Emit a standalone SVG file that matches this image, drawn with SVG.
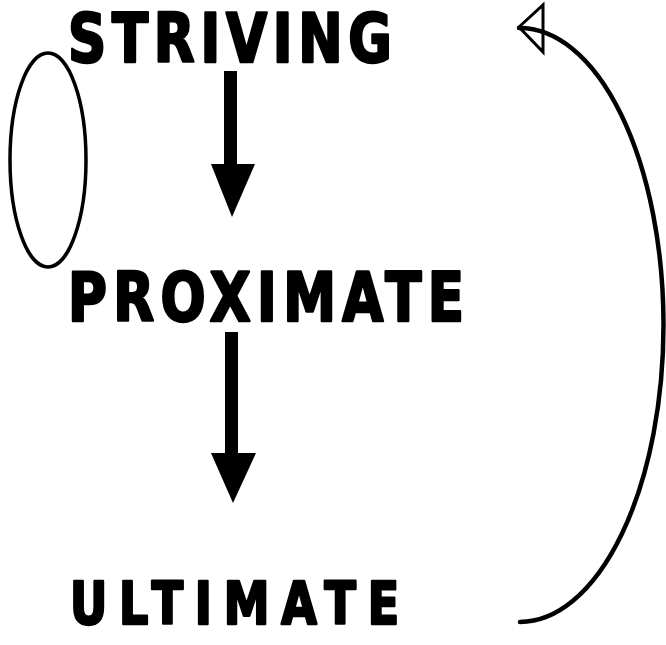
<svg xmlns="http://www.w3.org/2000/svg" width="666" height="645" viewBox="0 0 666 645">
  <style>
    .lbl { font-family: "DejaVu Sans Condensed", "DejaVu Sans", "Liberation Sans", sans-serif; font-weight: bold; fill: #000; stroke: #000; stroke-width: 2.5; stroke-linejoin: round; }
    .line { fill: none; stroke: #000; stroke-linecap: round; }
    .solid { fill: #000; stroke: none; }
  </style>
  <rect x="0" y="0" width="666" height="645" fill="#fff"/>
  <g id="loop-ellipse">
    <ellipse cx="48" cy="160" rx="38" ry="107" class="line" stroke-width="3.5"/>
  </g>
  <g id="striving" transform="translate(68,62) scale(0.88,1)">
    <text class="lbl" x="0" y="0" font-size="67" textLength="368" lengthAdjust="spacing">STRIVING</text>
  </g>
  <g id="proximate" transform="translate(68,321) scale(0.88,1)">
    <text class="lbl" x="0" y="0" font-size="67" textLength="450" lengthAdjust="spacing">PROXIMATE</text>
  </g>
  <g id="ultimate" transform="translate(70,624) scale(0.88,1)">
    <text class="lbl" x="0" y="0" font-size="58" textLength="374" lengthAdjust="spacing">ULTIMATE</text>
  </g>
  <g id="connectors">
    <rect class="solid" x="224" y="71" width="13" height="96"/>
    <polygon class="solid" points="211,164 255,164 232,217"/>
    <rect class="solid" x="225" y="332" width="13" height="124"/>
    <polygon class="solid" points="211,453 256,453 233,503"/>
    <path class="line" stroke-width="4.5" d="M519,28 A144,297 0 0 1 520,622"/>
    <polygon points="519,27 543,5 543,52" fill="none" stroke="#000" stroke-width="3" stroke-linejoin="miter"/>
  </g>
</svg>
